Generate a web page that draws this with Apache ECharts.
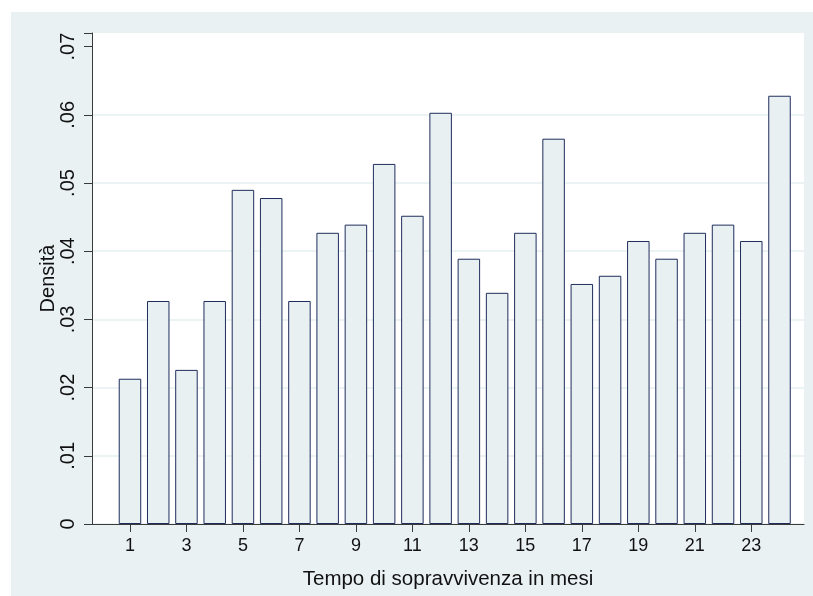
<!DOCTYPE html>
<html lang="it">
  <head>
    <meta charset="UTF-8" />
    <title>Densità - Tempo di sopravvivenza</title>
    <script src="https://cdn.jsdelivr.net/npm/echarts@6/dist/echarts.min.js"></script>
    <style>
      html, body { margin: 0; padding: 0; background: #fff; overflow: hidden; }
      #chart { position: absolute; left: 11px; top: 12px; width: 802px; height: 584px; }
    </style>
  </head>
  <body>
    <div id="chart"></div>

    <script>
      // mesi di sopravvivenza (una barra per mese)
      var months = [1, 2, 3, 4, 5, 6, 7, 8, 9, 10, 11, 12, 13, 14, 15, 16, 17, 18, 19, 20, 21, 22, 23, 24]
      // densità
      var density = [
        0.0213, 0.0327, 0.0226, 0.0327, 0.0490, 0.0478, 0.0327, 0.0427,
        0.0439, 0.0528, 0.0452, 0.0603, 0.0389, 0.0339, 0.0427, 0.0565,
        0.0352, 0.0364, 0.0415, 0.0389, 0.0427, 0.0439, 0.0415, 0.0628
      ]
      // etichette asse x
      var xTicks = [1, 3, 5, 7, 9, 11, 13, 15, 17, 19, 21, 23]

      var font = "'Liberation Sans', Arial, Helvetica, sans-serif"
      var chart = echarts.init(document.getElementById("chart"))

      var option = {
        backgroundColor: "#eaf1f3",
        animation: false,
        grid: {
          left: 81,
          top: 21,
          right: 9,
          bottom: 72,
          show: true,
          backgroundColor: "#ffffff",
          borderWidth: 0,
        },
        xAxis: {
          type: "value",
          min: -0.345,
          max: 24.867,
          name: "Tempo di sopravvivenza in mesi",
          nameLocation: "middle",
          nameGap: 45,
          nameMoveOverlap: false,
          nameTextStyle: { fontFamily: font, fontSize: 20.5, color: "#111" },
          axisLine: { show: true, onZero: false, lineStyle: { color: "#3a3a3a", width: 1 } },
          axisTick: { show: true, length: 8, customValues: xTicks, lineStyle: { color: "#3a3a3a" } },
          axisLabel: { customValues: xTicks, margin: 13, fontFamily: font, fontSize: 18, color: "#111" },
          splitLine: { show: false },
        },
        yAxis: {
          type: "value",
          min: 0,
          max: 0.072,
          interval: 0.01,
          name: "Densità",
          nameLocation: "middle",
          nameGap: 34,
          nameMoveOverlap: false,
          nameTextStyle: { fontFamily: font, fontSize: 20, color: "#111" },
          axisLine: { show: true, onZero: false, lineStyle: { color: "#3a3a3a", width: 1 } },
          axisTick: { show: true, length: 8, lineStyle: { color: "#3a3a3a" } },
          axisLabel: {
            rotate: 90,
            margin: 14,
            fontFamily: font,
            fontSize: 20,
            color: "#111",
            formatter: function (v) {
              var k = Math.round(v * 100)
              if (Math.abs(v * 100 - k) > 1e-6) return ""
              return k === 0 ? "0" : ".0" + k
            },
          },
          splitLine: {
            show: true,
            lineStyle: {
              width: 2,
              // niente linea a .07 (come nell'originale)
              color: ["#ecf3f5", "#ecf3f5", "#ecf3f5", "#ecf3f5", "#ecf3f5", "#ecf3f5", "#ecf3f5", "rgba(0,0,0,0)", "rgba(0,0,0,0)"],
            },
          },
        },
        series: [
          {
            type: "bar",
            barWidth: 22.5,
            data: months.map(function (m, i) { return [m, density[i]] }),
            itemStyle: {
              color: "#e8f0f2",
              borderColor: "#1f2d5c",
              borderWidth: 1,
            },
          },
        ],
      }
      chart.setOption(option)
    </script>
  </body>
</html>
